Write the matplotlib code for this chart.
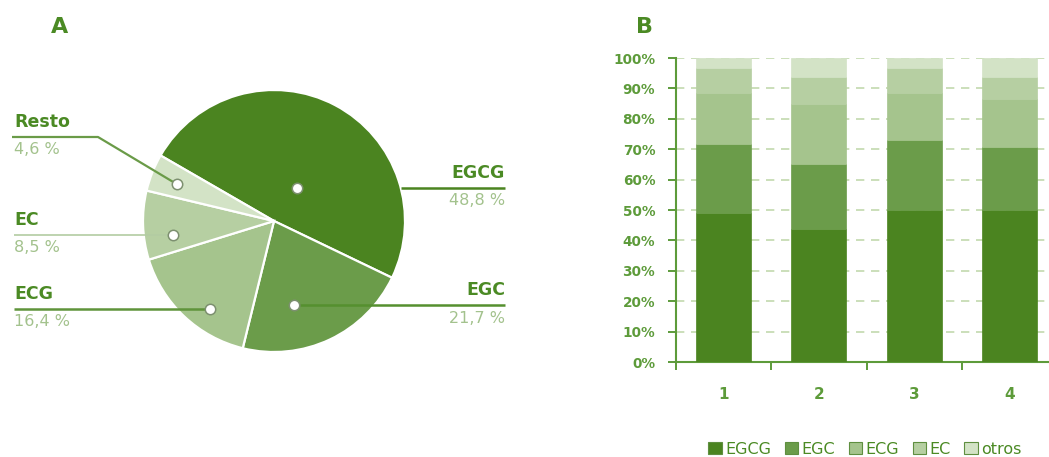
import numpy as np
import matplotlib
matplotlib.use("Agg")
import matplotlib.pyplot as plt
from matplotlib.transforms import Affine2D
from matplotlib.patches import Patch

# ---- data -------------------------------------------------------------
pie_labels = ["EGCG", "EGC", "ECG", "EC", "Resto"]
pie_values = [48.8, 21.7, 16.4, 8.5, 4.6]
pie_texts = ["48,8 %", "21,7 %", "16,4 %", "8,5 %", "4,6 %"]

samples = ["1", "2", "3", "4"]
bar_series = ["EGCG", "EGC", "ECG", "EC", "otros"]
egcg = [49.1, 43.8, 50.1, 50.1]
egc = [22.7, 21.2, 22.9, 20.7]
ecg = [16.7, 19.8, 15.5, 15.6]
ec = [8.3, 9.0, 8.3, 7.4]
otros = [3.2, 6.2, 3.2, 6.2]

# ---- style ------------------------------------------------------------
W, H = 1049, 457
colors = ["#4b8420", "#6b9c4a", "#a5c48d", "#b6cfa2", "#d3e3c6"]
dark = "#4b8a24"
axis_green = "#5d9b3a"
light_txt = "#a3c28d"
plt.rcParams["font.family"] = ["DejaVu Sans"]

fig = plt.figure(figsize=(W / 100, H / 100), dpi=100)
# pixel coordinates (origin top-left) -> figure
pix = Affine2D().scale(1 / W, -1 / H).translate(0, 1) + fig.transFigure

# ---- A: pie -----------------------------------------------------------
cx, cy, R = 274, 221, 131
ax_pie = fig.add_axes([(cx - R) / W, (H - cy - R) / H, 2 * R / W, 2 * R / H])
wedges, _ = ax_pie.pie(pie_values, colors=colors, startangle=150,
                       counterclock=False, radius=1,
                       wedgeprops=dict(edgecolor="white", linewidth=1.6))
ax_pie.set_xlim(-1, 1)
ax_pie.set_ylim(-1, 1)
ax_pie.axis("off")

# dot placement inside each wedge: (angle offset from mid-angle, radius fraction)
dot_layout = {"EGCG": (-7, 0.31), "EGC": (-12, 0.66), "ECG": (7, 0.83),
              "EC": (6, 0.78), "Resto": (1, 0.79)}


def dot_pixel(w, name):
    off, rf = dot_layout[name]
    a = np.deg2rad((w.theta1 + w.theta2) / 2 + off)
    return cx + R * rf * np.cos(a), cy - R * rf * np.sin(a)


dots = {n: dot_pixel(w, n) for w, n in zip(wedges, pie_labels)}
for n, (px, py) in dots.items():
    fig.add_artist(plt.Line2D([px], [py], marker="o", ms=7.5, mfc="white",
                              mec="#7d9070", mew=1.1, transform=pix, zorder=6))


def line(xs, ys, color, lw, z):
    fig.add_artist(plt.Line2D(xs, ys, color=color, lw=lw, transform=pix,
                              zorder=z, solid_capstyle="butt"))


def label(x, y, name, pct, ha):
    fig.text(x, y - 15, name, transform=pix, ha=ha, va="center",
             fontsize=12.5, fontweight="bold", color=dark)
    fig.text(x, y + 13, pct, transform=pix, ha=ha, va="center",
             fontsize=11.5, color=light_txt)


texts = dict(zip(pie_labels, pie_texts))
# EGCG (line passes under the pie, visible from its edge)
px, py = dots["EGCG"]
edge_x = cx + np.sqrt(R ** 2 - (py - cy) ** 2)
line([edge_x, 505], [py, py], colors[0], 1.8, 1)
label(505, py, "EGCG", texts["EGCG"], "right")
# EGC
px, py = dots["EGC"]
line([px, 505], [py, py], "#55902f", 1.8, 5)
label(505, py, "EGC", texts["EGC"], "right")
# ECG
px, py = dots["ECG"]
line([14, px], [py, py], "#5f943b", 1.8, 5)
label(14, py, "ECG", texts["ECG"], "left")
# EC
px, py = dots["EC"]
line([14, px], [py, py], "#b3cca2", 1.2, 5)
label(14, py, "EC", texts["EC"], "left")
# Resto (elbow line)
px, py = dots["Resto"]
line([12, 98, px], [137, 137, py], "#6a9b48", 1.6, 5)
label(14, 137, "Resto", texts["Resto"], "left")

fig.text(60, 27, "A", transform=pix, ha="center", va="center",
         fontsize=16, fontweight="bold", color=dark)
fig.text(645, 27, "B", transform=pix, ha="center", va="center",
         fontsize=16, fontweight="bold", color=dark)

# ---- B: stacked bars --------------------------------------------------
left, right, top, bottom = 676, 1057, 58, 362
ax = fig.add_axes([left / W, (H - bottom) / H, (right - left) / W,
                   (bottom - top) / H])
x = np.arange(1, len(samples) + 1)
base = np.zeros(len(samples))
for vals, c, name in zip([egcg, egc, ecg, ec, otros], colors, bar_series):
    v = np.array(vals)
    ax.bar(x, v, bottom=base, width=0.58, color=c, edgecolor=c,
           linewidth=0.5, zorder=3, label=name)
    base += v

ax.set_xlim(0.5, 4.5)
ax.set_ylim(0, 100)
ax.set_yticks(np.arange(0, 101, 10))
ax.set_yticklabels([f"{v}%" for v in range(0, 101, 10)])
ax.set_xticks(x)
ax.set_xticklabels(samples)
ax.set_xticks(np.arange(0.5, 4.0, 1.0), minor=True)
ax.tick_params(axis="x", which="major", length=0, pad=18, labelsize=11,
               labelcolor=axis_green)
ax.tick_params(axis="x", which="minor", length=6, width=1.4,
               color=axis_green, direction="out")
ax.tick_params(axis="y", length=6, width=1.4, color=axis_green, pad=9,
               labelsize=9.8, labelcolor=axis_green)
for t in ax.get_xticklabels() + ax.get_yticklabels():
    t.set_fontweight("bold")
ax.grid(axis="y", color="#c2d9ae", linestyle=(0, (5, 4)), linewidth=1.2,
        zorder=0)
for s in ["top", "right"]:
    ax.spines[s].set_visible(False)
for s in ["left", "bottom"]:
    ax.spines[s].set_color(axis_green)
    ax.spines[s].set_linewidth(1.5)

handles = [Patch(facecolor=c, edgecolor="#5f8f40", linewidth=0.8)
           for c in colors]
leg = fig.legend(handles, bar_series, loc="center",
                 bbox_to_anchor=(865 / W, 1 - 449 / H), ncol=5, frameon=False,
                 handlelength=0.85, handleheight=0.85, handletextpad=0.2,
                 columnspacing=0.85, fontsize=11.5, borderaxespad=0)
for t in leg.get_texts():
    t.set_color(dark)

fig.savefig("out.png", dpi=100)
